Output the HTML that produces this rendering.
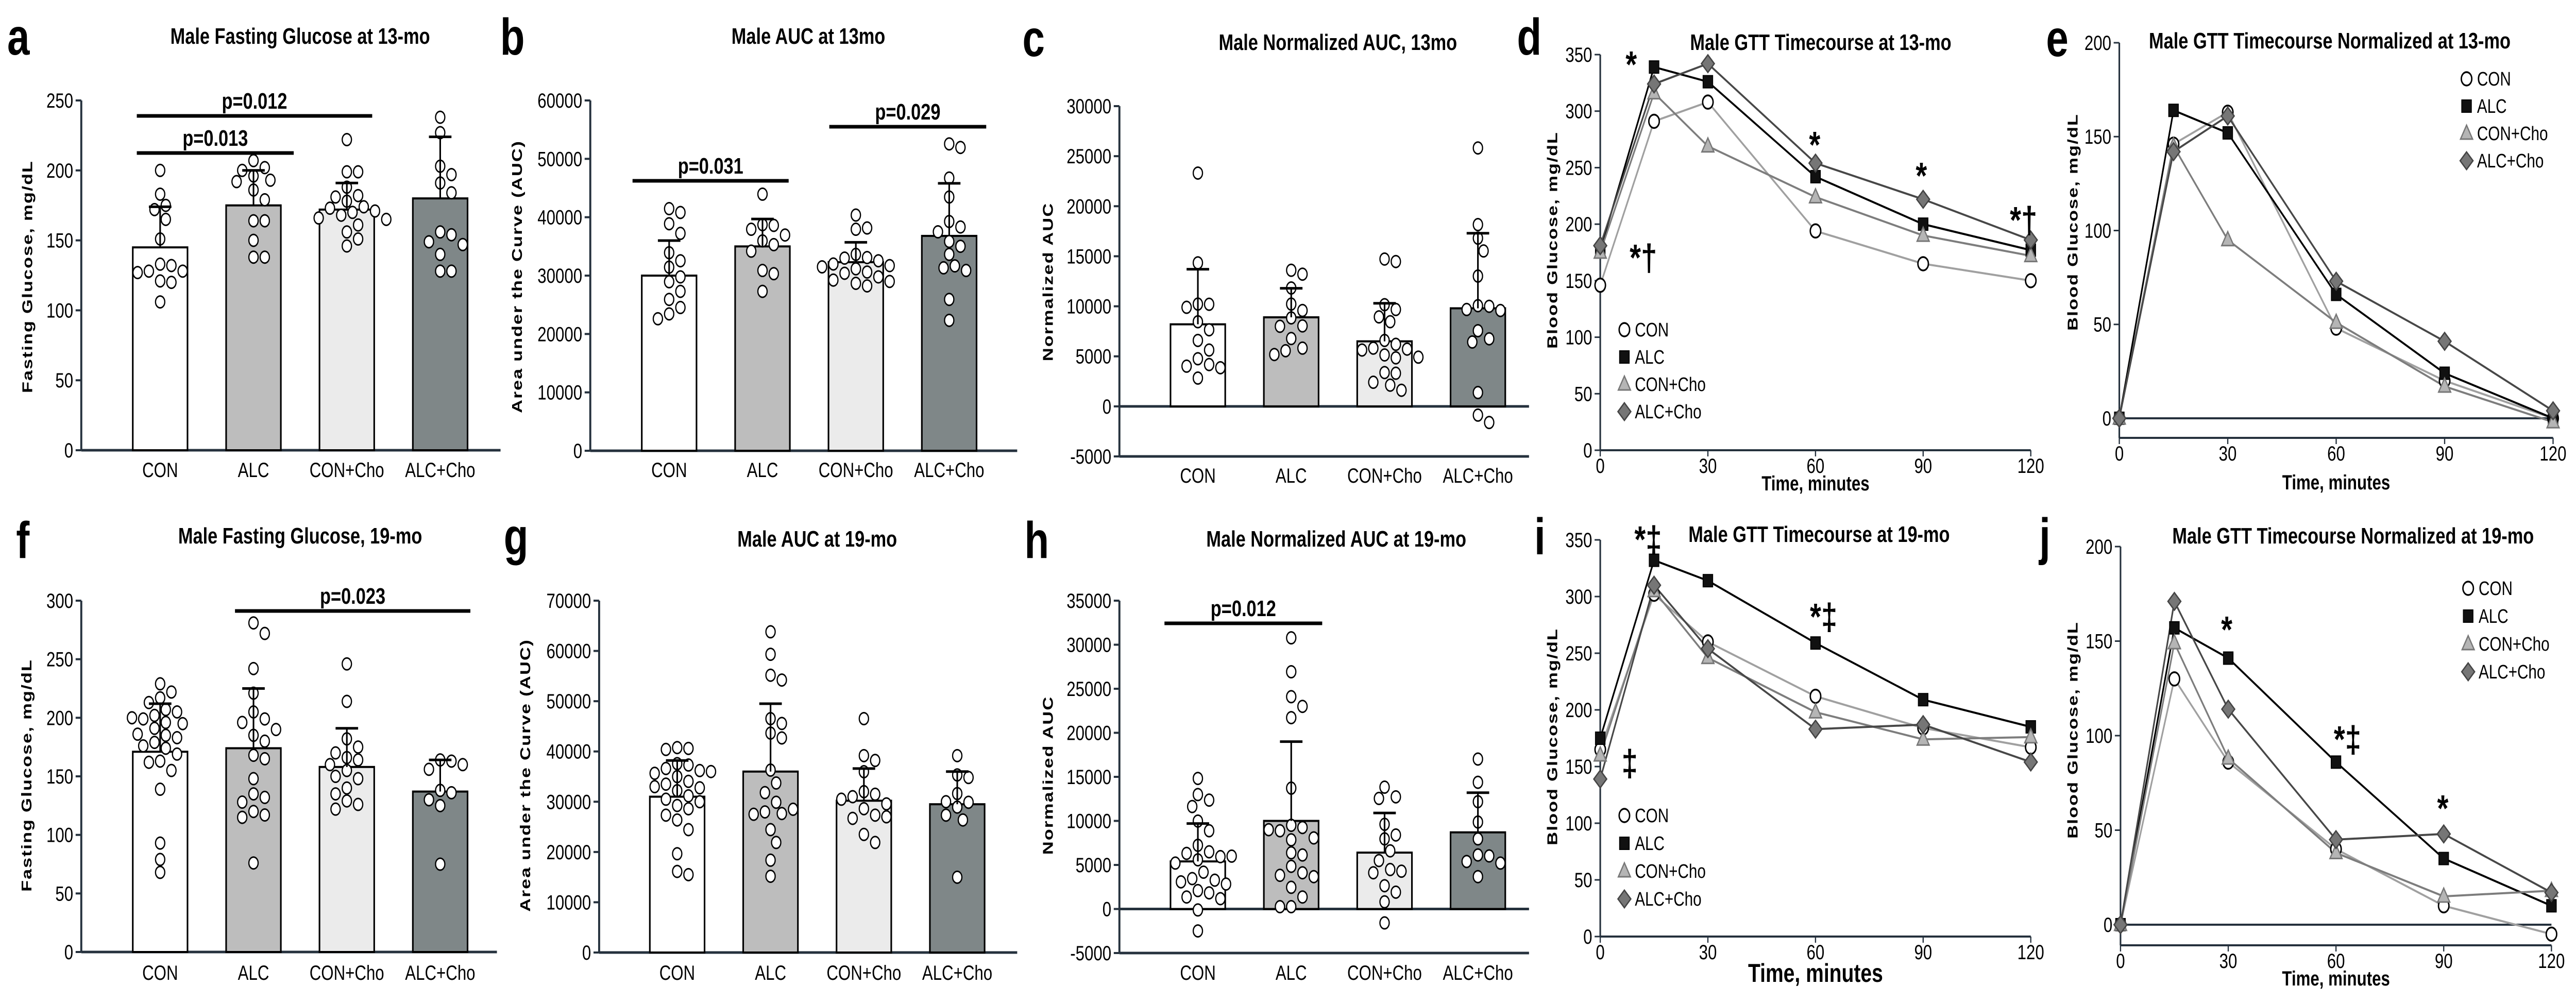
<!DOCTYPE html>
<html><head><meta charset="utf-8">
<meta name="viewport" content="width=6402, initial-scale=1">
<style>
html,body{margin:0;padding:0;background:#fff;width:100%;height:100%;overflow:hidden;}
svg{display:block;width:100vw;height:100vh;font-family:"Liberation Sans",Arial,sans-serif;}
</style></head>
<body>
<svg id="fig" viewBox="0 0 6402 1947" preserveAspectRatio="none" xmlns="http://www.w3.org/2000/svg"></svg>
<script>
// ---------- data ----------
const groups = ["CON","ALC","CON+Cho","ALC+Cho"];
// Panel a
const aMeans = [145,175,172,180];
const aSD = [29,25,19,44];
const aPts = [[200,183,175,172,165,151,133,132,128,128,127,121,120,106],[207,202,200,196,193,192,186,179,164,164,150,138,138],[222,199,199,188,182,181,178,174,173,171,170,168,166,165,161,156,151,146],[238,227,203,197,191,184,156,154,149,147,140,128,128]];
const aTicks = [0,50,100,150,200,250];
// Panel b
const bMeans = [30000,35000,32300,36800];
const bSD = [6000,4700,3400,9000];
const bPts = [[41470,40810,38880,37230,33920,32540,31440,29780,28950,27300,25920,24540,23440,22610],[43950,38720,38600,37940,36950,35950,35300,34190,30880,30330,27300],[40370,37940,38160,33640,33090,33000,32540,31990,31710,31160,30610,30400,29780,29230,29000,28680,28240,31500],[52560,51950,46710,43460,39270,38330,37500,35850,35020,33640,31660,31330,30880,25920,22340]];
const bTicks = [0,10000,20000,30000,40000,50000,60000];
// Panel c
const cMeans = [8200,8900,6500,9800];
const cSD = [5500,2900,3800,7500];
const cPts = [[23310,14340,10220,10200,9900,8455,7650,6590,5630,4760,4180,4020,3860,2830],[13600,13210,11830,10220,9580,8840,8040,8000,6780,5820,5560,5180],[14720,14470,10160,9680,8940,8460,6590,6200,5820,5720,5630,5140,4920,4850,3380,3310,2410,2120,1610],[25820,18160,16810,15530,13020,10060,10000,9680,9580,7560,6750,6430,1380,-870,-1610]];
const cTicks = [-5000,0,5000,10000,15000,20000,25000,30000];
// Panel f
const fMeans = [171,174,158,137];
const fSD = [41,51,33,27];
const fPts = [[229,222,217,213,207,205,202,199,196,195,191,185,183,179,176,174,169,163,162,155,139,93,79,68,186,200],[281,272,242,221,205,199,196,185,180,168,165,148,135,132,128,120,117,115,76,190],[246,214,182,175,166,164,155,148,140,129,126,122,170,160,150,135],[164,163,156,138,136,125,75,160,130]];
const fTicks = [0,50,100,150,200,250,300];
// Panel g
const gMeans = [31000,36000,30200,29500];
const gSD = [7200,13500,6400,6500];
const gPts = [[40770,40600,40400,37570,37300,36610,36200,35650,35000,34050,33500,32770,32200,31170,30500,29250,28600,27330,26370,24450,19650,16130,15490,33000,36000,30000],[63810,59330,55170,54210,46530,45570,43650,42690,36290,33730,31810,29890,27970,27650,27500,24450,21890,18370,15170,28500],[46530,39170,38210,35970,32000,31490,31000,29570,28610,27330,26690,23490,21890,30500,27000],[39170,35330,34820,31620,29890,28930,27330,26370,14980,30000]];
const gTicks = [0,10000,20000,30000,40000,50000,60000,70000];
// Panel h
const hMeans = [5400,10000,6400,8700];
const hSD = [4300,9000,4500,4500];
const hPts = [[14820,12990,12360,11630,9980,8880,7230,6490,6310,5940,5580,5210,4180,3450,3270,3080,2830,2090,1830,1360,1170,-110,-2490,6000],[30780,26930,24100,23000,21720,13720,9500,9250,8880,8070,7850,6380,6130,4840,4110,3820,3670,2460,1360,260,260,9000],[13830,12730,12550,9610,8400,7960,6600,5500,4480,4290,4110,2640,1910,810,-1580],[17020,14380,12180,9870,7960,6130,6020,5390,5210,3670]];
const hTicks = [-5000,0,5000,10000,15000,20000,25000,30000,35000];

// Time-course data
const times = [0,15,30,60,90,120];
const timeTicks = [0,30,60,90,120];
const dCON = [146,291,308,194,165,150];
const dALC = [177,339,326,242,200,177];
const dCONCho = [175,316,269,224,190,172];
const dALCCho = [181,324,342,254,222,186];
const dTicks = [0,50,100,150,200,250,300,350];
const eCON = [0,146,163,48,20,0];
const eALC = [0,164,152,66,24,0];
const eCONCho = [0,145,95,51,17,-2];
const eALCCho = [0,142,161,73,41,4];
const eTicks = [0,50,100,150,200];
const iCON = [165,302,260,212,184,167];
const iALC = [175,332,314,259,209,185];
const iCONCho = [160,305,246,198,174,176];
const iALCCho = [139,310,254,183,187,154];
const iTicks = [0,50,100,150,200,250,300,350];
const jCON = [0,130,86,40,10,-5];
const jALC = [0,157,141,86,35,10];
const jCONCho = [0,149,88,38,15,18];
const jALCCho = [0,171,114,45,48,17];
const jTicks = [0,50,100,150,200];

// ---------- helpers ----------
const NS = 'http://www.w3.org/2000/svg';
const svg = document.getElementById('fig');
const AX = '#25313d';
function mk(tag, attrs, parent){
  const e = document.createElementNS(NS, tag);
  for (const k in attrs) e.setAttribute(k, attrs[k]);
  (parent || svg).appendChild(e);
  return e;
}
function txt(x, y, s, size, weight, anchor, parent){
  const t = mk('text', {x:x, y:y, 'font-size':size, 'font-weight':weight||'normal', 'text-anchor':anchor||'start', fill:'#000'}, parent);
  t.textContent = s;
  return t;
}
function vtxt(x, y, s, size, parent){
  const t = mk('text', {x:0, y:0, 'font-size':size, 'font-weight':'bold', 'text-anchor':'middle', 'dominant-baseline':'central', fill:'#000', 'letter-spacing':'2', transform:'translate('+x+','+y+') rotate(-90)'}, parent);
  t.textContent = s;
  return t;
}
const fills = ['#ffffff','#bdbdbd','#ebebeb','#7f8788'];

function barPanel(p){
  const g = mk('g', {});
  
  
  const sy = v => p.yBot - (v - p.vmin) / (p.vmax - p.vmin) * (p.yBot - p.yTop);
  const L = txt(p.letterX, p.letterY, p.letter, 100, 'bold', 'start', g);
  
  
  const T = txt(p.titleX, p.titleY, p.title, 44, 'bold', 'middle', g);
  
  
  const Y = vtxt(p.ylabX, p.ylabY, p.ylabel, 36, g);
  
  
  const ya = mk('line', {x1:p.x0, y1:p.yTop, x2:p.x0, y2:p.yBot, stroke:AX, 'stroke-width':5}, g);
  
  
  const xa = mk('line', {x1:p.x0, y1:p.yBot, x2:p.xEnd, y2:p.yBot, stroke:AX, 'stroke-width':5}, g);
  
  
  if (p.vmin < 0){
    const z = mk('line', {x1:p.x0, y1:sy(0), x2:p.xEnd, y2:sy(0), stroke:AX, 'stroke-width':5}, g);
    
    
  }
  p.ticks.forEach(v => {
    const tk = mk('line', {x1:p.x0-14, y1:sy(v), x2:p.x0, y2:sy(v), stroke:AX, 'stroke-width':4}, g);
    
    
    const tl = txt(p.x0-20, sy(v)+14, String(v), 40, 'normal', 'end', g);
    
    
  });
  const bw = 136, r = 11.5;
  groups.forEach((gname, i) => {
    const cx = p.cx0 + i * p.step;
    const base = sy(Math.max(0, p.vmin));
    const top = sy(p.means[i]);
    const bar = mk('rect', {x:cx-bw/2, y:Math.min(top, base), width:bw, height:Math.abs(base-top), fill:fills[i], stroke:'#000', 'stroke-width':4}, g);
    
    
    const cl = txt(cx, p.catY, gname, 40, 'normal', 'middle', g);
    
    
    const placed = [];
    p.pts[i].forEach(v => {
      const y = sy(v);
      let off = 0;
      for (let k = 0; k < 30; k++){
        const cand = k === 0 ? 0 : (k % 2 ? 1 : -1) * Math.ceil(k/2) * 14;
        if (placed.every(q => Math.hypot(q[0]-cand, q[1]-y) >= 2*r + 2)) { off = cand; break; }
      }
      placed.push([off, y]);
      const c = mk('circle', {cx:cx+off, cy:y, r:r, fill:'#fff', stroke:'#000', 'stroke-width':3}, g);
      
      
    });
    const sdTop = sy(p.means[i] + p.sds[i]);
    const el = mk('line', {x1:cx, y1:top, x2:cx, y2:sdTop, stroke:'#000', 'stroke-width':4}, g);
    
    
    const cap = mk('line', {x1:cx-28, y1:sdTop, x2:cx+28, y2:sdTop, stroke:'#000', 'stroke-width':5}, g);
    
    
  });
  (p.sig || []).forEach(s => {
    const sl = mk('line', {x1:s.x1, y1:s.y, x2:s.x2, y2:s.y, stroke:'#000', 'stroke-width':7}, g);
    
    
    const st = txt((s.x1+s.x2)/2, s.y-14, s.label, 44, 'bold', 'middle', g);
    
    
  });
}

const styles = [
  {name:'CON', line:'#a0a0a0', fill:'#ffffff', stroke:'#000', shape:'circle'},
  {name:'ALC', line:'#000000', fill:'#111111', stroke:'#000', shape:'square'},
  {name:'CON+Cho', line:'#7d7d7d', fill:'#b5b5b5', stroke:'#777', shape:'tri'},
  {name:'ALC+Cho', line:'#474747', fill:'#767676', stroke:'#444', shape:'diamond'}
];
function marker(shape, x, y, st, g){
  let m;
  if (shape === 'circle') m = mk('circle', {cx:x, cy:y, r:13, fill:st.fill, stroke:st.stroke, 'stroke-width':3.5}, g);
  else if (shape === 'square') m = mk('rect', {x:x-12, y:y-12, width:24, height:24, fill:st.fill, stroke:st.stroke, 'stroke-width':2}, g);
  else if (shape === 'tri') m = mk('polygon', {points:(x)+','+(y-16)+' '+(x-15)+','+(y+11)+' '+(x+15)+','+(y+11), fill:st.fill, stroke:st.stroke, 'stroke-width':3}, g);
  else m = mk('polygon', {points:(x)+','+(y-17)+' '+(x+16)+','+(y)+' '+(x)+','+(y+17)+' '+(x-16)+','+(y), fill:st.fill, stroke:st.stroke, 'stroke-width':3}, g);
  return m;
}
function linePanel(p){
  const g = mk('g', {});
  
  
  const sx = t => p.x0 + t / 120 * (p.x120 - p.x0);
  const sy = v => p.y0 - v / p.vmax * (p.y0 - p.yTop);
  const L = txt(p.letterX, p.letterY, p.letter, 100, 'bold', 'start', g);
  
  
  const T = txt(p.titleX, p.titleY, p.title, 44, 'bold', 'middle', g);
  
  
  const Y = vtxt(p.ylabX, p.ylabY, 'Blood Glucose, mg/dL', 36, g);
  
  
  const X = txt((p.x0+p.x120)/2, p.xlabY, 'Time, minutes', p.xlabSize, 'bold', 'middle', g);
  
  
  const ya = mk('line', {x1:p.x0, y1:p.yTop, x2:p.x0, y2:p.axY, stroke:AX, 'stroke-width':4}, g);
  
  
  const xa = mk('line', {x1:p.x0, y1:p.axY, x2:p.x120, y2:p.axY, stroke:AX, 'stroke-width':4}, g);
  
  
  if (p.axY !== p.y0){
    const z = mk('line', {x1:p.x0, y1:p.y0, x2:p.x120, y2:p.y0, stroke:AX, 'stroke-width':4}, g);
    
    
  }
  p.ticks.forEach(v => {
    const tk = mk('line', {x1:p.x0-14, y1:sy(v), x2:p.x0, y2:sy(v), stroke:AX, 'stroke-width':3}, g);
    
    
    const tl = txt(p.x0-20, sy(v)+14, String(v), 40, 'normal', 'end', g);
    
    
  });
  timeTicks.forEach(t => {
    const tk = mk('line', {x1:sx(t), y1:p.axY, x2:sx(t), y2:p.axY+12, stroke:AX, 'stroke-width':3}, g);
    
    
    const tl = txt(sx(t), p.axY+44, String(t), 40, 'normal', 'middle', g);
    
    
  });
  p.series.forEach((vals, si) => {
    const st = styles[si];
    const pts = vals.map((v, k) => sx(times[k]) + ',' + sy(v)).join(' ');
    const pl = mk('polyline', {points:pts, fill:'none', stroke:st.line, 'stroke-width':4}, g);
    
    
  });
  p.series.forEach((vals, si) => {
    const st = styles[si];
    vals.forEach((v, k) => {
      const m = marker(st.shape, sx(times[k]), sy(v), st, g);
      
      
    });
  });
  styles.forEach((st, si) => {
    const ly = p.legY + si * p.legGap;
    const m = marker(st.shape, p.legX, ly, st, g);
    
    
    const lt = txt(p.legX + 26, ly + 13, st.name, 38, 'normal', 'start', g);
    
    
  });
  (p.notes || []).forEach(n => {
    const a = txt(n[0], n[1], n[2], 72, 'bold', 'start', g);
    
    
  });
}

// ---------- panels ----------
barPanel({name:'panel-a', letter:'a', letterX:18, letterY:106, title:'Male Fasting Glucose at 13-mo', titleX:746, titleY:85,
  ylabel:'Fasting Glucose, mg/dL', ylabX:68, ylabY:537, x0:202, xEnd:1244, yTop:195, yBot:874, vmin:0, vmax:250, ticks:aTicks,
  cx0:398, step:232, means:aMeans, sds:aSD, pts:aPts, catY:926,
  sig:[{x1:340,x2:730,y:297,label:'p=0.013'},{x1:340,x2:925,y:225,label:'p=0.012'}]});
barPanel({name:'panel-b', letter:'b', letterX:1243, letterY:106, title:'Male AUC at 13mo', titleX:2009, titleY:85,
  ylabel:'Area under the Curve (AUC)', ylabX:1285, ylabY:537, x0:1467, xEnd:2528, yTop:195, yBot:875, vmin:0, vmax:60000, ticks:bTicks,
  cx0:1663, step:232, means:bMeans, sds:bSD, pts:bPts, catY:926,
  sig:[{x1:1572,x2:1960,y:351,label:'p=0.031'},{x1:2061,x2:2451,y:246,label:'p=0.029'}]});
barPanel({name:'panel-c', letter:'c', letterX:2541, letterY:109, title:'Male Normalized AUC, 13mo', titleX:3325, titleY:97,
  ylabel:'Normalized AUC', ylabX:2604, ylabY:547, x0:2782, xEnd:3800, yTop:206, yBot:886, vmin:-5000, vmax:30000, ticks:cTicks,
  cx0:2977, step:232, means:cMeans, sds:cSD, pts:cPts, catY:937});
barPanel({name:'panel-f', letter:'f', letterX:40, letterY:1083, title:'Male Fasting Glucose, 19-mo', titleX:746, titleY:1055,
  ylabel:'Fasting Glucose, mg/dL', ylabX:66, ylabY:1505, x0:202, xEnd:1235, yTop:1166, yBot:1848, vmin:0, vmax:300, ticks:fTicks,
  cx0:398, step:232, means:fMeans, sds:fSD, pts:fPts, catY:1902,
  sig:[{x1:584,x2:1169,y:1186,label:'p=0.023'}]});
barPanel({name:'panel-g', letter:'g', letterX:1252, letterY:1076, title:'Male AUC at 19-mo', titleX:2031, titleY:1061,
  ylabel:'Area under the Curve (AUC)', ylabX:1305, ylabY:1505, x0:1489, xEnd:2528, yTop:1166, yBot:1849, vmin:0, vmax:70000, ticks:gTicks,
  cx0:1683, step:232, means:gMeans, sds:gSD, pts:gPts, catY:1902});
barPanel({name:'panel-h', letter:'h', letterX:2546, letterY:1083, title:'Male Normalized AUC at 19-mo', titleX:3321, titleY:1061,
  ylabel:'Normalized AUC', ylabX:2604, ylabY:1505, x0:2782, xEnd:3800, yTop:1166, yBot:1850, vmin:-5000, vmax:35000, ticks:hTicks,
  cx0:2977, step:232, means:hMeans, sds:hSD, pts:hPts, catY:1902,
  sig:[{x1:2894,x2:3286,y:1210,label:'p=0.012'}]});

linePanel({name:'panel-d', letter:'d', letterX:3770, letterY:106, title:'Male GTT Timecourse at 13-mo', titleX:4525, titleY:97,
  ylabX:3858, ylabY:466, x0:3977, x120:5047, yTop:106, y0:874, axY:874, vmax:350, ticks:dTicks, xlabY:952, xlabSize:40,
  series:[dCON,dALC,dCONCho,dALCCho], legX:4037, legY:640, legGap:53,
  notes:[[4040,150,'*'],[4496,306,'*'],[4761,366,'*'],[4995,452,'*†'],[4050,525,'*†']]});
linePanel({name:'panel-e', letter:'e', letterX:5085, letterY:109, title:'Male GTT Timecourse Normalized at 13-mo', titleX:5790, titleY:94,
  ylabX:5151, ylabY:431, x0:5267, x120:6345, yTop:83, y0:812, axY:850, vmax:200, ticks:eTicks, xlabY:950, xlabSize:40,
  series:[eCON,eALC,eCONCho,eALCCho], legX:6130, legY:153, legGap:53});
linePanel({name:'panel-i', letter:'i', letterX:3813, letterY:1076, title:'Male GTT Timecourse at 19-mo', titleX:4521, titleY:1052,
  ylabX:3858, ylabY:1430, x0:3977, x120:5047, yTop:1048, y0:1818, axY:1818, vmax:350, ticks:iTicks, xlabY:1906, xlabSize:50,
  series:[iCON,iALC,iCONCho,iALCCho], legX:4037, legY:1583, legGap:54,
  notes:[[4062,1072,'*‡'],[4498,1222,'*‡'],[4030,1506,'‡']]});
linePanel({name:'panel-j', letter:'j', letterX:5068, letterY:1076, title:'Male GTT Timecourse Normalized at 19-mo', titleX:5848, titleY:1055,
  ylabX:5151, ylabY:1417, x0:5270, x120:6341, yTop:1061, y0:1795, axY:1835, vmax:200, ticks:jTicks, xlabY:1913, xlabSize:40,
  series:[jCON,jALC,jCONCho,jALCCho], legX:6134, legY:1142, legGap:54,
  notes:[[5520,1247,'*'],[5800,1460,'*‡'],[6057,1594,'*']]});
</script>
</body></html>
